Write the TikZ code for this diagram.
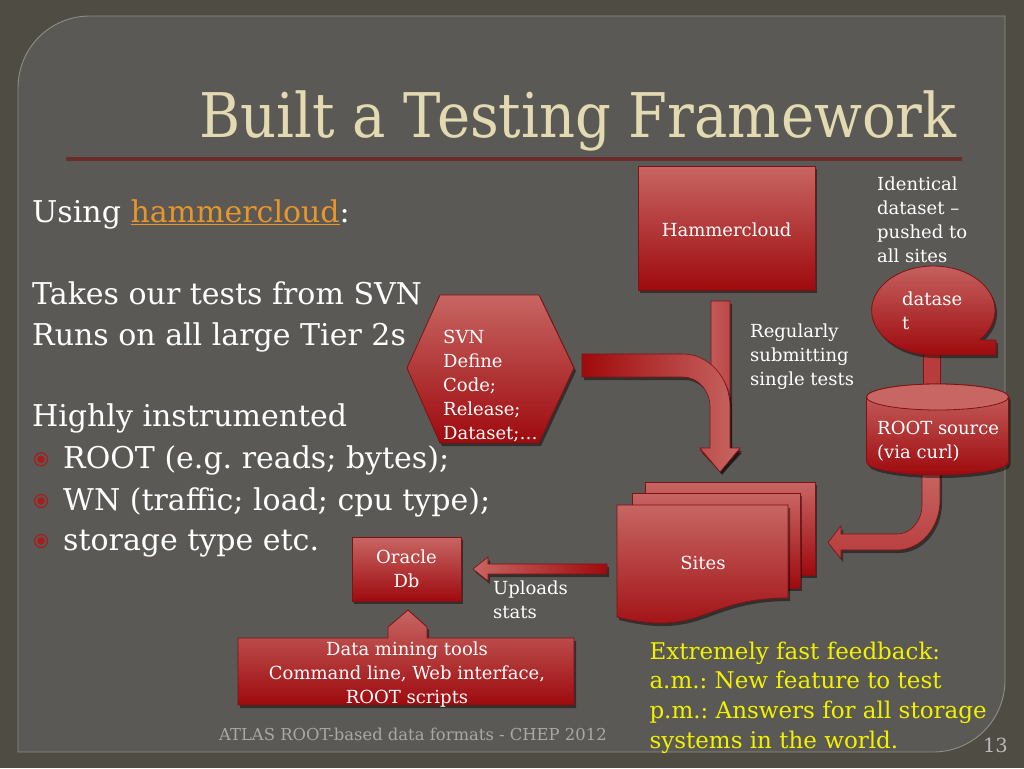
\documentclass[tikz,border=0pt]{standalone}
\usepackage{fontspec}
\setmainfont{DejaVu Serif}
\usetikzlibrary{shadows}
\definecolor{outerbg}{HTML}{4E4C43}
\definecolor{panel}{HTML}{5A5955}
\definecolor{panelline}{HTML}{8E8D87}
\definecolor{titlecol}{HTML}{E3DAB2}
\definecolor{rulecol}{HTML}{6B2C2C}
\definecolor{redtop}{HTML}{C76663}
\definecolor{redbot}{HTML}{9E0A0E}
\definecolor{redline}{HTML}{7E1214}
\definecolor{redmid}{HTML}{B83C3C}
\definecolor{darkred}{HTML}{A00A0C}
\definecolor{linkcol}{HTML}{E8952A}
\definecolor{yel}{HTML}{F2F200}
\definecolor{footcol}{HTML}{A8A8A4}
\definecolor{bulletcol}{HTML}{A81C1C}
\tikzset{
  shad/.style={drop shadow={opacity=0.45,shadow xshift=2pt,shadow yshift=-3pt,fill=black}},
  redshape/.style={top color=redtop,bottom color=redbot,draw=redline,line width=0.8,shad},
  small/.style={font=\fontsize{18}{24}\selectfont,text=white,inner sep=0,align=left},
  body/.style={font=\fontsize{30}{35}\selectfont,text=white,inner sep=0,anchor=base west},
  yellowtext/.style={font=\fontsize{23}{29.8}\selectfont,text=yel,inner sep=0,align=left},
  bulletmark/.style={draw=bulletcol,line width=1.2},
}
\frenchspacing
\begin{document}
\frenchspacing
\begin{tikzpicture}[x=1pt,y=-1pt]
\path[use as bounding box,fill=outerbg] (0,0) rectangle (1024,768);
% panel
\path[fill=panel,draw=panelline,line width=0.9] (18,88) -- (18,752) -- (933,752)
  .. controls (973,752) and (1005,720) .. (1005,680) -- (1005,16) -- (90,16)
  .. controls (50,16) and (18,48) .. (18,88) -- cycle;
% title
\node[font=\fontsize{56}{60}\selectfont,text=titlecol,anchor=base] (title) at (578,137) {\scalebox{1}[1.1]{Built a Testing Framework}};
\draw[rulecol,line width=3.5] (66,159) -- (962,159);
% left text
\node[body] (using) at (32,222.7) {Using \textcolor{linkcol}{\underline{hammercloud}}:};
\node[body] (takes) at (32,304) {Takes our tests from SVN};
\node[body] (runs) at (32,345) {Runs on all large Tier 2s};
\node[body] (highly) at (32,426.7) {Highly instrumented};
\node[body] (b1) at (63,468.3) {ROOT (e.g. reads; bytes);};
\node[body] (b2) at (63,510) {WN (traffic; load; cpu type);};
\node[body] (b3) at (63,550) {storage type etc.};
\foreach \yy/\nm in {459.3/d1,501/d2,541/d3}{
  \draw[bulletmark] (41,\yy) circle[radius=6.5];
  \fill[bulletcol] (41,\yy) circle[radius=3.8];
}
% Hammercloud arrow (straight)
\path[left color=redtop,right color=redmid,draw=redline,line width=0.6,shad]
  (711,301) -- (730,301) -- (730,450) -- (740,450) -- (720,471) -- (700,450) -- (711,450) -- cycle;
% SVN bent arrow
\path[left color=darkred,right color=redtop,draw=redline,line width=0.6,shad]
  (582,354) -- (683,354) arc[start angle=-90,end angle=0,x radius=47,y radius=53]
  -- (730,448) -- (740,448) -- (720,472) -- (700,448) -- (710,448) -- (710,407)
  arc[start angle=0,end angle=-90,x radius=27,y radius=30] -- (582,377) -- cycle;
% Hammercloud box
\path[redshape] (638,166) rectangle (815,290);
\node[font=\fontsize{18}{24}\selectfont,text=white,inner sep=0,anchor=base] (hc) at (726.7,236) {Hammercloud};
% SVN hexagon
\path[redshape] (407,368) -- (440,295) -- (539,295) -- (574,368) -- (539,443) -- (440,443) -- cycle;
\node[small,anchor=north west] (svn) at (443,329.6) {SVN\\Define\\Code;\\Release;\\Dataset;…};
% labels
\node[small,anchor=north west] (ident) at (877,177) {Identical\\dataset –\\pushed to\\all sites};
\node[small,anchor=north west] (regular) at (750,323.6) {Regularly\\submitting\\single tests};
% ROOT -> Sites bent arrow
\path[top color=redtop,bottom color=redmid,draw=redline,line width=0.6,shad]
  (922,468) -- (940,468) -- (940,500) arc[start angle=0,end angle=90,x radius=43,y radius=50]
  -- (841,550) -- (841,559) -- (828,542.5) -- (841,526) -- (841,534) -- (897,534)
  arc[start angle=90,end angle=0,x radius=25,y radius=29] -- cycle;
% dataset -> ROOT bar
\path[fill=redmid,draw=redline,line width=0.6] (923.5,350) rectangle (940,388);
% dataset shape
\path[redshape] (933.3,355) -- (996,355) -- (996,340) -- (979.5,340)
  arc[start angle=41.5,end angle=-270,x radius=61.7,y radius=44.5] -- cycle;
\node[small,anchor=north west] (dataset) at (902,291.3) {datase\\t};
% cylinder
\path[redshape] (866.5,397) -- (866.5,462)
  .. controls (866.5,469.2) and (898.7,475) .. (937.5,475)
  .. controls (976.3,475) and (1008.5,469.2) .. (1008.5,462)
  -- (1008.5,397)
  .. controls (1008.5,389.8) and (976.3,384) .. (937.5,384)
  .. controls (898.7,384) and (866.5,389.8) .. (866.5,397) -- cycle;
\path[fill=redtop,draw=redline,line width=0.8] (866.5,397)
  .. controls (866.5,404.2) and (898.7,410) .. (937.5,410)
  .. controls (976.3,410) and (1008.5,404.2) .. (1008.5,397)
  .. controls (1008.5,389.8) and (976.3,384) .. (937.5,384)
  .. controls (898.7,384) and (866.5,389.8) .. (866.5,397) -- cycle;
\node[small,anchor=north west] (rootsrc) at (877,420.7) {ROOT source\\(via curl)};
% Sites stack
\path[redshape] (645,482) rectangle (815,575);
\path[redshape] (632,493) rectangle (800,588);
\path[redshape] (617,505) -- (788,505) -- (788,598)
  .. controls (702.5,598) and (702.5,638) .. (617,617) -- cycle;
\node[font=\fontsize{18}{24}\selectfont,text=white,inner sep=0,anchor=base] (sites) at (703,569.3) {Sites};
% uploads arrow
\path[left color=redtop,right color=darkred,draw=redline,line width=0.6,shad]
  (607,564) -- (488,564) -- (488,557) -- (473,569) -- (488,581) -- (488,574) -- (607,574) -- cycle;
\node[small,anchor=north west] (uploads) at (493,580.3) {Uploads\\stats};
% Oracle
\path[redshape] (352,537) rectangle (461,601);
\node[small,anchor=north,align=center] (oracle) at (406.5,549.6) {Oracle\\Db};
% Data mining callout
\path[redshape] (238,638) -- (388,638) -- (388,627) -- (408,610) -- (427,627) -- (427,638)
  -- (574,638) -- (574,705) -- (238,705) -- cycle;
\node[small,anchor=north,align=center] (mining) at (407,641.3) {Data mining tools\\Command line, Web interface,\\ROOT scripts};
% yellow text
\node[yellowtext,anchor=north west] (fast) at (649.3,641.5) {Extremely fast feedback:\\a.m.: New feature to test\\p.m.: Answers for all storage\\systems in the world.};
% footer
\node[font=\fontsize{16.4}{18}\selectfont,text=footcol,inner sep=0,anchor=base west] (footer) at (219,740) {ATLAS ROOT-based data formats - CHEP 2012};
\node[font=\fontsize{19.5}{22}\selectfont,text=footcol!80!white,inner sep=0,anchor=base east] (pagenum) at (1008,752.7) {13};
\end{tikzpicture}
\end{document}
